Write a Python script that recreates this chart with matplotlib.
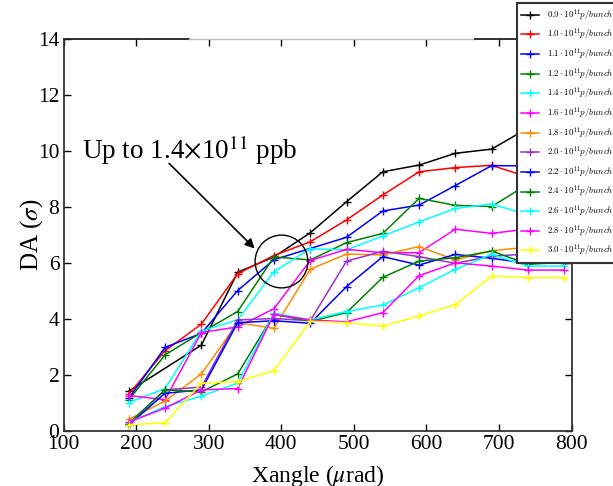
import matplotlib
matplotlib.use('Agg')
import matplotlib.pyplot as plt
from matplotlib.font_manager import FontProperties

plt.rcParams['font.family'] = 'Liberation Serif'
plt.rcParams['mathtext.fontset'] = 'stix'

# data
xangle = [190, 240, 290, 340, 390, 440, 490, 540, 590, 640, 690, 740, 790]
xangle_09 = [190, 290, 340, 390, 440, 490, 540, 590, 640, 690, 740, 790]
da_09 = [1.4, 3.05, 5.65, 6.2, 7.06, 8.17, 9.24, 9.48, 9.9, 10.05, 10.8, 11.0]
da_10 = [1.3, 2.85, 3.8, 5.6, 6.25, 6.74, 7.52, 8.41, 9.24, 9.39, 9.47, 9.05, 9.0]
da_11 = [1.15, 2.97, 3.47, 5.0, 6.1, 6.5, 6.9, 7.84, 8.05, 8.75, 9.46, 9.45, 9.4]
da_12 = [1.1, 2.7, 3.5, 4.25, 6.2, 6.09, 6.71, 7.04, 8.29, 8.04, 8.0, 8.8, 8.9]
da_14 = [1.0, 1.5, 3.55, 3.95, 5.67, 6.49, 6.45, 6.95, 7.45, 7.93, 8.09, 7.7, 7.7]
da_16 = [1.25, 1.1, 3.5, 3.7, 4.35, 6.07, 6.47, 6.35, 6.35, 7.19, 7.04, 7.2, 7.2]
da_18 = [0.4, 1.05, 2.02, 3.85, 3.65, 5.76, 6.3, 6.27, 6.57, 6.09, 6.42, 6.55, 6.6]
da_20 = [0.25, 1.45, 1.55, 3.95, 4.0, 3.92, 6.05, 6.4, 6.21, 5.97, 6.23, 6.3, 6.3]
da_22 = [0.2, 1.33, 1.45, 3.85, 3.92, 3.83, 5.14, 6.21, 5.91, 6.29, 6.15, 5.97, 6.0]
da_24 = [0.25, 1.45, 1.38, 2.02, 4.15, 3.9, 4.21, 5.47, 6.05, 6.17, 6.41, 5.94, 6.0]
da_26 = [0.3, 0.85, 1.23, 1.69, 4.19, 3.95, 4.25, 4.48, 5.1, 5.76, 6.29, 5.87, 5.87]
da_28 = [0.3, 0.8, 1.45, 1.5, 4.15, 3.95, 3.88, 4.21, 5.53, 5.99, 5.87, 5.73, 5.73]
da_30 = [0.2, 0.28, 1.69, 1.75, 2.14, 3.9, 3.85, 3.73, 4.09, 4.5, 5.52, 5.46, 5.46]

intensities = ['0.9', '1.0', '1.1', '1.2', '1.4', '1.6', '1.8',
               '2.0', '2.2', '2.4', '2.6', '2.8', '3.0']
series = [da_09, da_10, da_11, da_12, da_14, da_16, da_18,
          da_20, da_22, da_24, da_26, da_28, da_30]
colors = ['#000000', '#ff0000', '#0000ff', '#008000', '#00ffff', '#ff00ff',
          '#ff8c00', '#9932cc', '#0000ff', '#008000', '#00ffff', '#ff00ff',
          '#ffff00']

fig = plt.figure(figsize=(6.13, 4.86), dpi=100)
ax = fig.add_axes([63.5/613, 1-430.5/486, 508/613, 392/486])

for lab, ys, c in zip(intensities, series, colors):
    xs = xangle_09 if lab == '0.9' else xangle
    ax.plot(xs, ys, '-', marker='+', color=c, lw=1.1, ms=6, mew=1,
            label=r'$%s\cdot10^{11}p/bunch$' % lab)

# circle around the crossing point
ax.plot(400, 6.05, 'o', ms=38, mfc='none', mec='k', mew=1, label='_nolegend_')
ax.annotate('', xy=(363.4, 6.5), xytext=(245.5, 9.54),
            arrowprops=dict(arrowstyle='-|>', color='k', lw=1.2,
                            mutation_scale=14, shrinkA=0, shrinkB=0))
ax.text(125.4, 9.7, r'Up to 1.4$\times$10$^{11}$ ppb', fontsize=19.5,
        ha='left', va='baseline')

ax.set_xlim(100, 800)
ax.set_ylim(0, 14)
ax.set_xticks(range(100, 801, 100))
ax.set_yticks(range(0, 15, 2))
ax.tick_params(direction='in', top=True, right=True, length=5, width=1,
               labelsize=15.5, pad=3, colors='k')
ax.set_xlabel(r'Xangle ($\mu$rad)', fontsize=17)
ax.set_ylabel(r'DA ($\sigma$)', fontsize=18)
ax.xaxis.set_label_coords(0.5, -0.083)
ax.yaxis.set_label_coords(-0.036, 0.5)

for s in ['left', 'bottom', 'right']:
    ax.spines[s].set_color('#333333')
    ax.spines[s].set_linewidth(1.3)
ax.spines['top'].set_visible(False)
ax.plot([0, 0.248], [1, 1], transform=ax.transAxes, color='#222222',
        lw=1.3, clip_on=False)
ax.plot([0.248, 0.81], [1, 1], transform=ax.transAxes, color='#bbbbbb',
        lw=1.0, clip_on=False)
ax.plot([0.81, 1], [1, 1], transform=ax.transAxes, color='#222222',
        lw=1.3, clip_on=False)

leg = ax.legend(loc='upper left', bbox_to_anchor=(517/613, 1-3/486),
                bbox_transform=fig.transFigure, borderaxespad=0,
                prop=FontProperties(size=6.4, math_fontfamily='cm'),
                fancybox=False, labelspacing=0.5, handlelength=2.0,
                handletextpad=0.9, borderpad=0.5, framealpha=1)
leg.get_frame().set_edgecolor('#333333')
leg.get_frame().set_linewidth(1.5)

fig.savefig('out.png', dpi=100)
